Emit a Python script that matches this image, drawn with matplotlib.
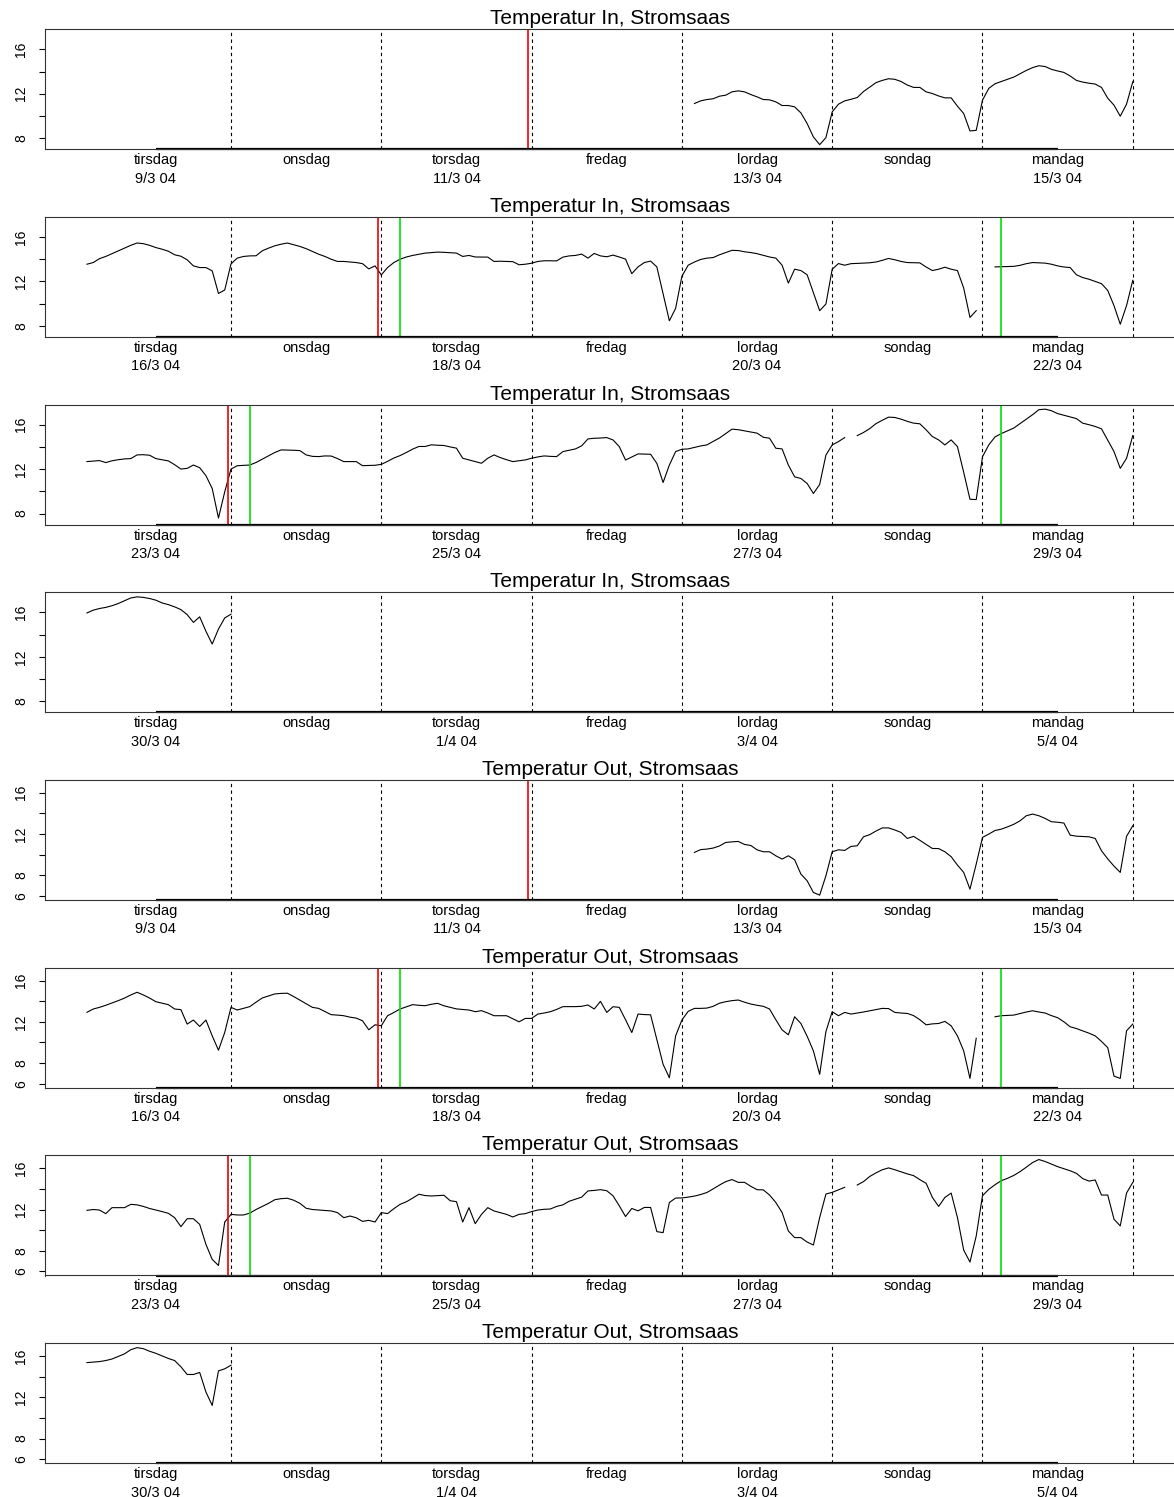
import datetime as dt

import numpy as np
import matplotlib
matplotlib.use("Agg")
from matplotlib import pyplot as plt
from matplotlib import transforms

nan = np.nan

# timeverdier, timer regnet fra tirsdag 00:00 i hver uke
dagnavn = ["tirsdag", "onsdag", "torsdag", "fredag", "lordag", "sondag", "mandag"]
uke_start = [dt.date(2004, 3, 9), dt.date(2004, 3, 16), dt.date(2004, 3, 23), dt.date(2004, 3, 30)]
forste_time = [98, 1, 1, 1]

in_uke1 = [
    11.12, 11.36, 11.48, 11.55, 11.78, 11.87, 12.17, 12.26, 12.17, 11.93, 11.72, 11.48,
    11.45, 11.27, 10.94, 10.94, 10.82, 10.28, 9.32, 8.11, 7.42, 8.05, 10.37, 11.06,
    11.36, 11.5, 11.66, 12.2, 12.6, 13.0, 13.2, 13.35, 13.3, 13.1, 12.78, 12.57,
    12.57, 12.17, 12.02, 11.8, 11.63, 11.63, 10.88, 10.22, 8.65, 8.71, 11.42, 12.48,
    12.9, 13.1, 13.3, 13.5, 13.8, 14.1, 14.35, 14.52, 14.45, 14.2, 14.05, 13.92,
    13.6, 13.2, 13.05, 12.95, 12.87, 12.57, 11.6, 10.97, 9.98, 11.06, 13.08,
]
in_uke2 = [
    13.55, 13.7, 14.05, 14.25, 14.5, 14.75, 15.0, 15.25, 15.46, 15.4, 15.25, 15.05,
    14.9, 14.72, 14.4, 14.27, 13.95, 13.4, 13.25, 13.25, 12.95, 10.92, 11.23, 13.58,
    14.1, 14.25, 14.3, 14.31, 14.76, 15.0, 15.21, 15.35, 15.46, 15.3, 15.15, 14.95,
    14.7, 14.45, 14.25, 14.0, 13.8, 13.8, 13.75, 13.7, 13.6, 13.13, 13.4, 12.59,
    13.25, 13.7, 14.0, 14.2, 14.34, 14.45, 14.55, 14.6, 14.64, 14.62, 14.58, 14.55,
    14.25, 14.34, 14.2, 14.19, 14.19, 13.8, 13.82, 13.8, 13.78, 13.5, 13.55, 13.64,
    13.8, 13.86, 13.86, 13.85, 14.19, 14.3, 14.34, 14.46, 14.1, 14.52, 14.3, 14.22,
    14.37, 14.2, 14.01, 12.7, 13.31, 13.7, 13.83, 13.31, 10.9, 8.46, 9.58, 12.46,
    13.46, 13.75, 13.98, 14.1, 14.15, 14.4, 14.6, 14.8, 14.78, 14.67, 14.6, 14.5,
    14.35, 14.2, 14.1, 13.46, 11.85, 13.1, 12.98, 12.6, 11.0, 9.37, 9.97, 13.1,
    13.61, 13.46, 13.6, 13.62, 13.65, 13.68, 13.75, 13.9, 14.07, 13.95, 13.8, 13.7,
    13.68, 13.67, 13.3, 12.98, 13.1, 13.28, 13.1, 12.98, 11.4, 8.76, 9.37, nan,
    nan, 13.31, 13.32, 13.34, 13.36, 13.45, 13.6, 13.7, 13.68, 13.65, 13.55, 13.4,
    13.3, 13.25, 12.6, 12.35, 12.2, 12.0, 11.8, 11.19, 9.82, 8.15, 9.82, 12.1,
]
in_uke3 = [
    12.68, 12.73, 12.77, 12.59, 12.75, 12.85, 12.92, 12.95, 13.28, 13.3, 13.25, 12.95,
    12.85, 12.74, 12.4, 12.01, 12.07, 12.37, 12.13, 11.41, 10.26, 7.6, 9.96, 12.01,
    12.31, 12.34, 12.37, 12.6, 12.9, 13.2, 13.5, 13.73, 13.72, 13.7, 13.67, 13.28,
    13.15, 13.13, 13.19, 13.18, 12.95, 12.68, 12.68, 12.68, 12.31, 12.33, 12.35, 12.43,
    12.7, 13.0, 13.22, 13.5, 13.8, 14.04, 14.04, 14.19, 14.15, 14.13, 14.0, 13.89,
    12.98, 12.83, 12.68, 12.53, 12.98, 13.28, 13.04, 12.85, 12.68, 12.75, 12.83, 12.98,
    13.1, 13.19, 13.15, 13.13, 13.58, 13.7, 13.82, 14.1, 14.72, 14.78, 14.8, 14.84,
    14.63, 14.03, 12.82, 13.1, 13.37, 13.35, 13.34, 12.52, 10.8, 12.37, 13.58, 13.79,
    13.82, 13.95, 14.09, 14.18, 14.5, 14.8, 15.2, 15.6, 15.55, 15.45, 15.35, 15.24,
    14.87, 14.78, 13.88, 13.82, 12.37, 11.31, 11.16, 10.71, 9.81, 10.62, 13.27, 14.18,
    14.48, 14.84, nan, 15.02, 15.3, 15.65, 16.1, 16.4, 16.68, 16.65, 16.5, 16.3,
    16.14, 16.08, 15.54, 14.93, 14.63, 14.18, 14.63, 14.03, 11.71, 9.29, 9.26, 13.12,
    14.18, 14.9, 15.2, 15.45, 15.7, 16.1, 16.5, 16.9, 17.35, 17.4, 17.26, 17.0,
    16.85, 16.7, 16.55, 16.14, 16.0, 15.84, 15.63, 14.6, 13.58, 12.07, 12.97, 15.02,
]
in_uke4 = [
    15.95, 16.2, 16.35, 16.45, 16.6, 16.8, 17.05, 17.3, 17.4, 17.35, 17.25, 17.1,
    16.85, 16.7, 16.5, 16.25, 15.8, 15.1, 15.6, 14.3, 13.15, 14.5, 15.5, 15.84,
]

out_uke1 = [
    10.23, 10.5, 10.55, 10.65, 10.85, 11.19, 11.25, 11.29, 11.0, 10.9, 10.48, 10.29,
    10.29, 9.9, 9.58, 9.9, 9.52, 8.13, 7.48, 6.35, 6.09, 7.97, 10.29, 10.48,
    10.42, 10.81, 10.87, 11.74, 11.95, 12.3, 12.6, 12.6, 12.4, 12.16, 11.58, 11.78,
    11.4, 11.0, 10.61, 10.6, 10.29, 9.81, 9.0, 8.29, 6.67, 9.1, 11.68, 12.0,
    12.35, 12.48, 12.7, 12.95, 13.29, 13.78, 13.94, 13.78, 13.52, 13.2, 13.15, 13.07,
    11.9, 11.8, 11.77, 11.74, 11.58, 10.39, 9.6, 8.9, 8.29, 11.78, 12.81,
]
out_uke2 = [
    12.92, 13.24, 13.4, 13.6, 13.82, 14.05, 14.3, 14.6, 14.86, 14.6, 14.3, 13.95,
    13.8, 13.66, 13.24, 13.18, 11.78, 12.17, 11.55, 12.17, 10.64, 9.25, 10.97, 13.4,
    13.14, 13.3, 13.47, 13.9, 14.31, 14.5, 14.7, 14.75, 14.77, 14.45, 14.1, 13.75,
    13.4, 13.3, 13.0, 12.69, 12.65, 12.59, 12.45, 12.36, 12.1, 11.23, 11.71, 11.62,
    12.59, 12.9, 13.24, 13.45, 13.66, 13.6, 13.56, 13.7, 13.79, 13.55, 13.4, 13.25,
    13.2, 13.14, 12.98, 13.08, 12.85, 12.59, 12.59, 12.59, 12.3, 12.0, 12.33, 12.33,
    12.75, 12.85, 12.98, 13.2, 13.47, 13.47, 13.47, 13.5, 13.63, 13.24, 13.98, 12.91,
    13.46, 13.4, 12.2, 10.96, 12.75, 12.7, 12.68, 10.3, 7.88, 6.58, 10.64, 12.17,
    13.01, 13.3, 13.3, 13.33, 13.5, 13.8, 13.95, 14.05, 14.11, 13.9, 13.72, 13.6,
    13.5, 13.24, 12.2, 11.22, 10.74, 12.49, 11.84, 10.6, 9.18, 6.91, 11.06, 12.98,
    12.59, 12.91, 12.75, 12.85, 12.95, 13.07, 13.2, 13.3, 13.28, 12.91, 12.85, 12.81,
    12.6, 12.2, 11.71, 11.8, 11.84, 12.04, 11.61, 10.64, 9.18, 6.52, 10.41, nan,
    nan, 12.49, 12.59, 12.62, 12.65, 12.8, 12.95, 13.07, 12.95, 12.85, 12.6, 12.4,
    12.0, 11.52, 11.35, 11.13, 10.9, 10.64, 10.1, 9.5, 6.74, 6.52, 11.13, 11.78,
]
out_uke3 = [
    11.92, 12.0, 11.95, 11.6, 12.18, 12.18, 12.18, 12.5, 12.45, 12.3, 12.1, 11.95,
    11.8, 11.63, 11.21, 10.34, 11.11, 11.11, 10.56, 8.62, 7.17, 6.58, 10.79, 11.53,
    11.47, 11.47, 11.65, 12.0, 12.3, 12.6, 12.95, 13.05, 13.09, 12.9, 12.6, 12.12,
    12.0, 11.95, 11.9, 11.86, 11.7, 11.21, 11.37, 11.2, 10.85, 10.95, 10.79, 11.7,
    11.6, 12.08, 12.5, 12.75, 13.1, 13.48, 13.35, 13.31, 13.35, 13.38, 12.85, 12.76,
    10.79, 12.18, 10.63, 11.53, 12.18, 11.86, 11.7, 11.53, 11.28, 11.53, 11.6, 11.8,
    11.95, 12.02, 12.05, 12.3, 12.45, 12.8, 13.0, 13.2, 13.8, 13.85, 13.92, 13.82,
    13.33, 12.36, 11.32, 12.1, 11.87, 12.2, 12.2, 9.86, 9.76, 12.68, 13.11, 13.12,
    13.2, 13.3, 13.45, 13.65, 14.0, 14.37, 14.7, 14.9, 14.63, 14.63, 14.25, 13.92,
    13.9, 13.4, 12.68, 11.71, 9.92, 9.28, 9.28, 8.85, 8.56, 11.22, 13.5, 13.66,
    13.9, 14.15, nan, 14.37, 14.7, 15.2, 15.55, 15.85, 16.03, 15.85, 15.65, 15.45,
    15.28, 14.89, 14.54, 13.17, 12.3, 13.17, 13.59, 11.22, 8.07, 6.91, 9.44, 13.33,
    13.95, 14.4, 14.79, 15.02, 15.3, 15.67, 16.1, 16.55, 16.84, 16.65, 16.4, 16.15,
    15.95, 15.75, 15.5, 15.0, 14.75, 14.86, 13.4, 13.4, 11.06, 10.41, 13.59, 14.63,
]
out_uke4 = [
    15.35, 15.4, 15.45, 15.55, 15.7, 15.95, 16.2, 16.6, 16.8, 16.7, 16.45, 16.25,
    16.0, 15.75, 15.55, 14.95, 14.2, 14.2, 14.4, 12.5, 11.2, 14.55, 14.75, 15.1,
]

# hendelser (timer fra ukestart)
roede_linjer = [[71.4], [47.4], [23.45], []]
groenne_linjer = [[], [51.0, 147.0], [27.0, 147.0], []]

in_uker = [in_uke1, in_uke2, in_uke3, in_uke4]
out_uker = [out_uke1, out_uke2, out_uke3, out_uke4]

plt.rcParams["font.family"] = ["Liberation Sans", "DejaVu Sans"]

W, H = 1174, 1497
fig = plt.figure(figsize=(W / 100, H / 100), dpi=100)

for p in range(8):
    uke = p % 4
    inne = p < 4
    topp = 29.3 + 187.7 * p
    ax = fig.add_axes([45 / W, 1 - (topp + 120) / H, 1131 / W, 120 / H])

    verdier = in_uker[uke] if inne else out_uker[uke]
    timer = np.arange(forste_time[uke], forste_time[uke] + len(verdier))
    ax.plot(timer, verdier, color="black", lw=0.8)

    if inne:
        ylim = (7.0, 17.8)
        yt = [8, 10, 12, 14, 16]
        ytl = ["8", "", "12", "", "16"]
        tittel = "Temperatur In, Stromsaas"
    else:
        ylim = (5.61, 17.23)
        yt = [6, 8, 10, 12, 14, 16]
        ytl = ["6", "8", "", "12", "", "16"]
        tittel = "Temperatur Out, Stromsaas"

    ax.set_xlim(-5.7, 174.9)
    ax.set_ylim(*ylim)

    for d in range(1, 8):
        ax.axvline(24 * d, color="black", lw=0.8, ls=(0, (3, 3)))
    for t in roede_linjer[uke]:
        ax.axvline(t, color="#f00000", lw=1.2)
    for t in groenne_linjer[uke]:
        ax.axvline(t, color="#00e000", lw=1.2)

    for s in ax.spines.values():
        s.set_color("#333333")
        s.set_linewidth(0.8)
    # akselinje fra første til siste dagsmerke
    ax.plot([12, 156], [ylim[0], ylim[0]], color="black", lw=1.6,
            clip_on=False, solid_capstyle="butt")

    ax.set_xticks([])
    ax.set_yticks(yt)
    ax.set_yticklabels(ytl, rotation=90, va="center")
    ax.tick_params(axis="y", length=4.3, width=0.8, pad=8, labelsize=10)

    ax.text(0.5, 1, tittel, ha="center", va="baseline", fontsize=15,
            transform=transforms.offset_copy(ax.transAxes, fig=fig, y=3.6, units="points"))

    for d in range(7):
        ax.annotate(dagnavn[d], xy=(12 + 24 * d, 0), xycoords=("data", "axes fraction"),
                    xytext=(0, -10.8), textcoords="offset points",
                    ha="center", va="baseline", fontsize=10.5)
        if d % 2 == 0:
            dato = uke_start[uke] + dt.timedelta(days=d)
            ax.annotate(f"{dato.day}/{dato.month} 04", xy=(12 + 24 * d, 0),
                        xycoords=("data", "axes fraction"),
                        xytext=(0, -24.0), textcoords="offset points",
                        ha="center", va="baseline", fontsize=10.5)

fig.savefig("out.png", dpi=100)
